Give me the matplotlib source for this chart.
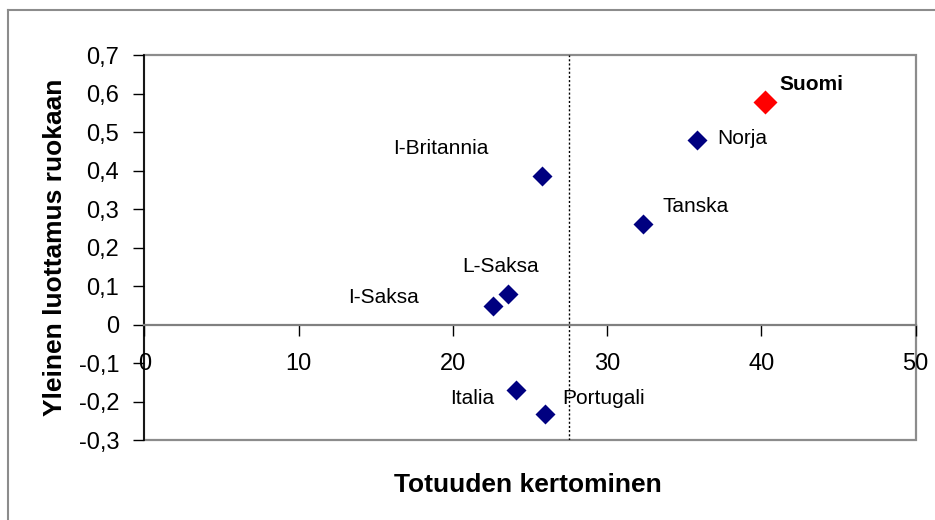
import matplotlib
matplotlib.use("Agg")
import matplotlib.pyplot as plt
from matplotlib.patches import Rectangle
from matplotlib.lines import Line2D

# ---- data ----
countries = ["Suomi", "Norja", "Tanska", "I-Britannia", "L-Saksa", "I-Saksa", "Italia", "Portugali"]
truth_x = [40.2, 35.8, 32.3, 25.8, 23.6, 22.6, 24.1, 26.0]
trust_y = [0.58, 0.48, 0.263, 0.386, 0.081, 0.048, -0.170, -0.231]
divider_x = 27.5
x_ticks = [0, 10, 20, 30, 40, 50]
y_ticks = [-0.3, -0.2, -0.1, 0.0, 0.1, 0.2, 0.3, 0.4, 0.5, 0.6, 0.7]
y_tick_labels = ["-0,3", "-0,2", "-0,1", "0", "0,1", "0,2", "0,3", "0,4", "0,5", "0,6", "0,7"]
x_label = "Totuuden kertominen"
y_label = "Yleinen luottamus ruokaan"

# ---- layout / style (label offsets in pixels) ----
label_style = {
    "Suomi":       dict(off=(15, 17),   ha="left",   bold=True),
    "Norja":       dict(off=(21, 2),    ha="left",   bold=False),
    "Tanska":      dict(off=(20, 17),   ha="left",   bold=False),
    "I-Britannia": dict(off=(-54, 28),  ha="right",  bold=False),
    "L-Saksa":     dict(off=(-8, 27),   ha="center", bold=False),
    "I-Saksa":     dict(off=(-74, 9),   ha="right",  bold=False),
    "Italia":      dict(off=(-22, -8),  ha="right",  bold=False),
    "Portugali":   dict(off=(17, 15),   ha="left",   bold=False),
}

plt.rcParams["font.family"] = ["Liberation Sans", "DejaVu Sans"]

fig = plt.figure(figsize=(9.35, 5.2), dpi=100)
fig.patch.set_facecolor("white")

# outer chart border (top and left visible)
fig.add_artist(Line2D([8 / 935, 1.0], [1 - 10 / 520, 1 - 10 / 520], transform=fig.transFigure,
                      color="#8c8c8c", lw=1.5))
fig.add_artist(Line2D([8 / 935, 8 / 935], [0.0, 1 - 10 / 520], transform=fig.transFigure,
                      color="#8c8c8c", lw=1.5))

ax = fig.add_axes([144.3 / 935, 1 - 440.3 / 520, (915.7 - 144.3) / 935, (440.3 - 55.3) / 520])
ax.set_xlim(0, 50)
ax.set_ylim(-0.3, 0.7)

# plot area frame
ax.add_patch(Rectangle((0, 0), 1, 1, transform=ax.transAxes, fill=False,
                       edgecolor="#8c8c8c", lw=1.6, zorder=1, clip_on=False))

for s in ["top", "right"]:
    ax.spines[s].set_visible(False)
ax.spines["bottom"].set_position(("data", 0))
ax.spines["bottom"].set_color("#808080")
ax.spines["bottom"].set_linewidth(1.6)
ax.spines["left"].set_color("black")
ax.spines["left"].set_linewidth(1.2)

ax.set_xticks(x_ticks)
ax.set_xticklabels([str(v) for v in x_ticks])
ax.set_yticks(y_ticks)
ax.set_yticklabels(y_tick_labels)
ax.tick_params(axis="x", direction="out", length=8, width=1, color="black", labelsize=17, pad=12)
ax.tick_params(axis="y", direction="out", length=8, width=1, color="black", labelsize=17, pad=10)

# dotted divider
ax.axvline(divider_x, color="black", lw=1, linestyle=(0, (1.5, 1.5)), zorder=2)

# markers
for name, xv, yv in zip(countries, truth_x, trust_y):
    if name == "Suomi":
        ax.plot(xv, yv, marker="D", ms=12.5, color="#ff0000", mec="none", zorder=4, clip_on=False)
    else:
        ax.plot(xv, yv, marker="D", ms=10.5, color="#000080", mec="none", zorder=4, clip_on=False)
    st = label_style[name]
    ax.annotate(name, (xv, yv), xytext=st["off"], textcoords="offset pixels",
                ha=st["ha"], va="center", fontsize=15,
                fontweight="bold" if st["bold"] else "normal", color="black")

fig.text(528 / 935, 1 - 485 / 520, x_label, ha="center", va="center", fontsize=19, fontweight="bold")
fig.text(55 / 935, 1 - 247.5 / 520, y_label, ha="center", va="center", rotation=90,
         fontsize=19, fontweight="bold")

fig.savefig("out.png", dpi=100, facecolor="white")
